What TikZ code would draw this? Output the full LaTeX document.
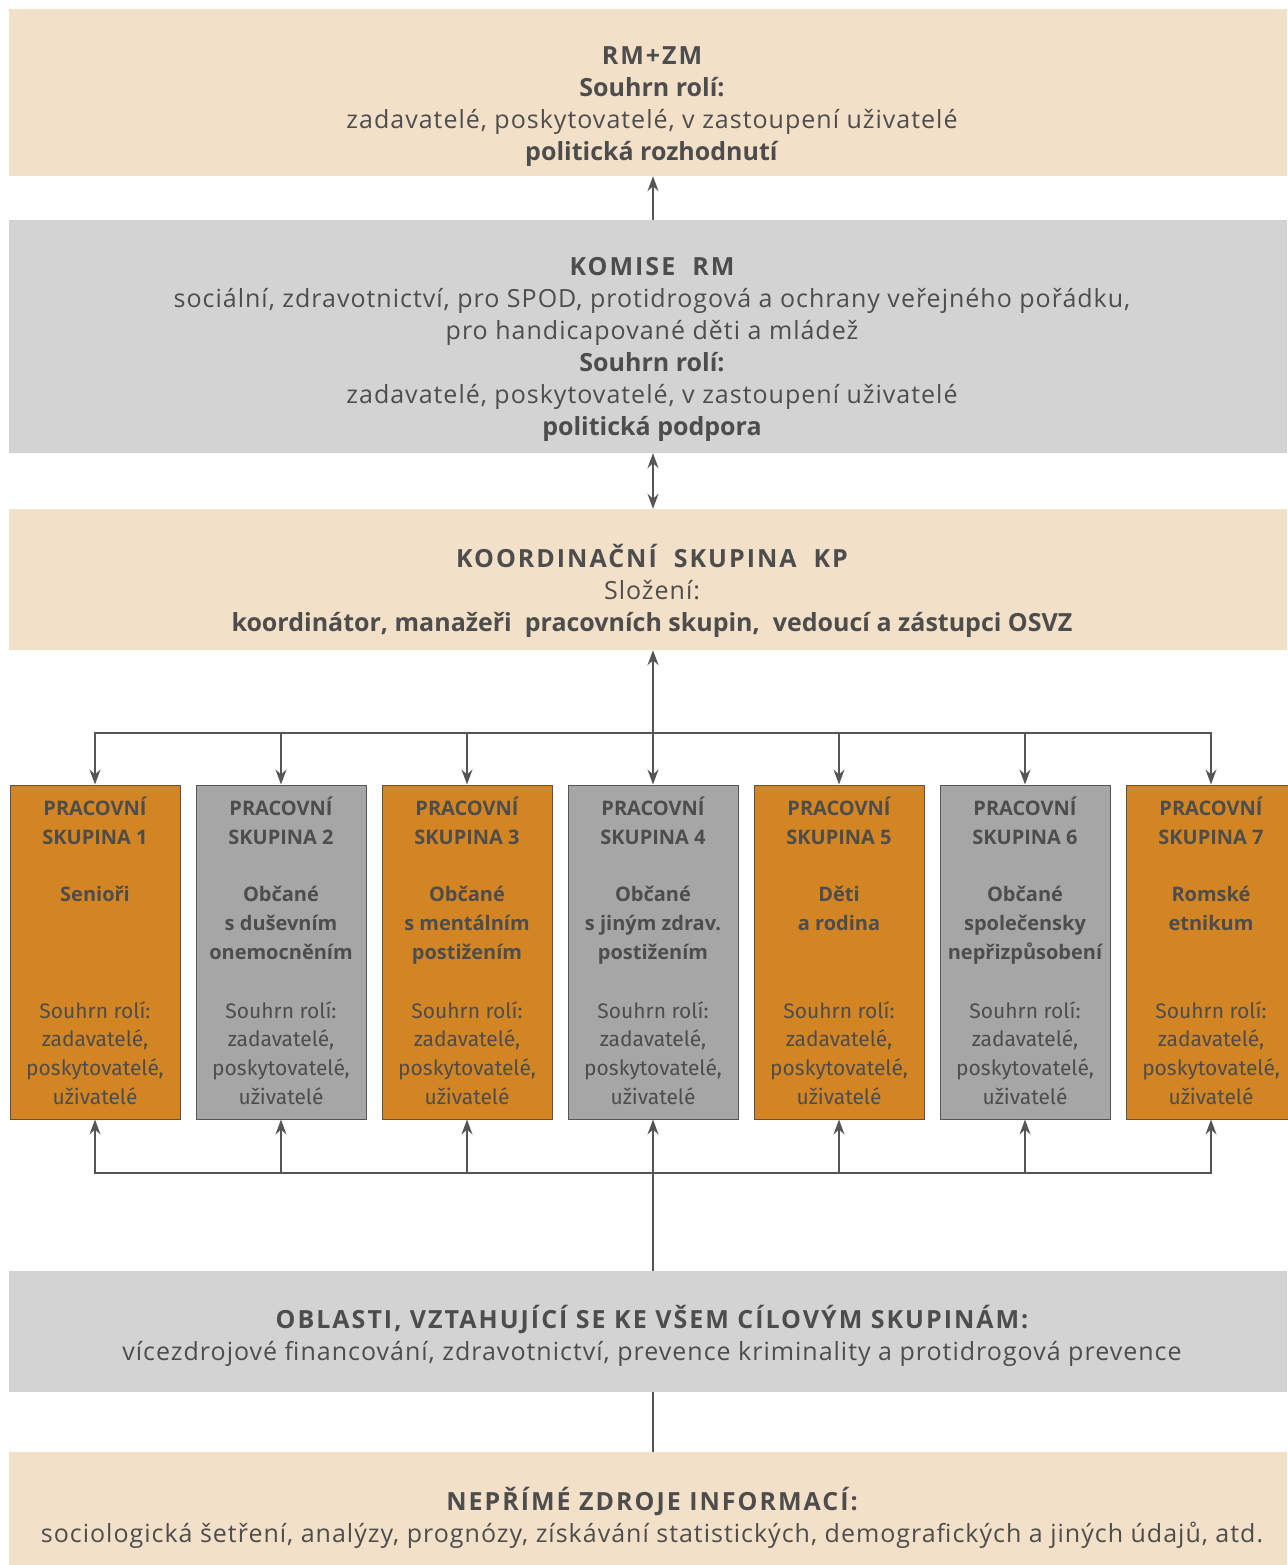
\documentclass[tikz,border=0pt]{standalone}
\usepackage{fontspec}
\setmainfont{Open Sans}[LetterSpace=4, BoldFeatures={LetterSpace=0}]
\newfontfamily\headfont{Open Sans}[LetterSpace=8]
\newfontfamily\grpheadfont{Open Sans}
\newfontfamily\grpfont{Fira Sans}
\newcommand\headline[1]{{\headfont\bfseries #1}}
\usetikzlibrary{arrows.meta, positioning}
\definecolor{peach}{HTML}{F3E0C8}
\definecolor{lgray}{HTML}{D3D3D3}
\definecolor{orng}{HTML}{D38423}
\definecolor{mgray}{HTML}{A6A6A6}
\definecolor{txt}{HTML}{4D4D4D}
\definecolor{ln}{HTML}{555555}

\begin{document}
\begin{tikzpicture}[x=1pt, y=-1pt,
  band/.style={fill=#1, draw=none, minimum width=1278pt, inner sep=0},
  bandtext/.style={align=center, text=txt, inner sep=0, font=\fontsize{25}{32}\selectfont},
  grp/.style={fill=#1, draw=ln, line width=1pt, minimum width=170pt, minimum height=334pt, inner sep=0},
  grphead/.style={anchor=north, align=center, text=txt, inner sep=0, font=\fontsize{20}{28.7}\selectfont\grpheadfont\bfseries},
  grproles/.style={anchor=north, align=center, text=txt, inner sep=0, font=\fontsize{21}{28.7}\selectfont\grpfont},
  link/.style={draw=ln, line width=1.5pt},
  arr/.style={link, -{Stealth[length=15pt, width=11pt, inset=5pt]}},
  darr/.style={link, {Stealth[length=15pt, width=11pt, inset=5pt]}-{Stealth[length=15pt, width=11pt, inset=5pt]}}]
  \useasboundingbox (0,0) rectangle (1287,1565);

  \node[band=peach, minimum height=167pt] (rmzm) at (648,92.5) {};
  \node[bandtext] (rmzmtext) at (652,107) {\headline{RM+ZM}\\\textbf{Souhrn rolí:}\\zadavatelé, poskytovatelé, v zastoupení uživatelé\\\textbf{politická rozhodnutí}};

  \node[band=lgray, minimum height=233pt] (komise) at (648,336.5) {};
  \node[bandtext] (komisetext) at (652,349) {\headline{KOMISE\ \ RM}\\sociální, zdravotnictví, pro SPOD, protidrogová a ochrany veřejného pořádku,\\pro handicapované děti a mládež\\\textbf{Souhrn rolí:}\\zadavatelé, poskytovatelé, v zastoupení uživatelé\\\textbf{politická podpora}};

  \node[band=peach, minimum height=141pt] (koord) at (648,579.5) {};
  \node[bandtext] (koordtext) at (652,591) {\headline{KOORDINAČNÍ\ \ SKUPINA\ \ KP}\\Složení:\\\textbf{koordinátor, manažeři\ \ pracovních skupin,\ \ vedoucí a zástupci OSVZ}};

  \node[band=lgray, minimum height=121pt] (oblasti) at (648,1331.5) {};
  \node[bandtext] (oblastitext) at (652,1335.5) {\headline{OBLASTI, VZTAHUJÍCÍ SE KE VŠEM CÍLOVÝM SKUPINÁM:}\\vícezdrojové financování, zdravotnictví, prevence kriminality a protidrogová prevence};

  \node[band=peach, minimum height=113pt] (neprime) at (648,1508.5) {};
  \node[bandtext] (neprimetext) at (652,1518) {\headline{NEPŘÍMÉ ZDROJE INFORMACÍ:}\\sociologická šetření, analýzy, prognózy, získávání statistických, demografických a jiných údajů, atd.};

  \foreach \i/\fc/\cat in {1/orng/{Senioři},
      2/mgray/{Občané\\s duševním\\onemocněním},
      3/orng/{Občané\\s mentálním\\postižením},
      4/mgray/{Občané\\s jiným zdrav.\\postižením},
      5/orng/{Děti\\a rodina},
      6/mgray/{Občané\\společensky\\nepřizpůsobení},
      7/orng/{Romské\\etnikum}} {
    \node[grp=\fc] (g\i) at ({95+186*(\i-1)},952) {};
    \node[grphead] (g\i head) at ({95+186*(\i-1)},797) {PRACOVNÍ\\SKUPINA \i\\[28.7pt]\cat};
    \node[grproles] (g\i roles) at ({95+186*(\i-1)},1001) {Souhrn rolí:\\zadavatelé,\\poskytovatelé,\\uživatelé};
  }

  \coordinate (bustop) at (653,733);
  \coordinate (busbot) at (653,1173);

  \draw[arr] (komise.north -| g4.north) -- (rmzm.south -| g4.north);
  \draw[darr] (komise.south -| g4.north) -- (koord.north -| g4.north);
  \draw[darr] (koord.south -| g4.north) -- (g4.north);
  \foreach \i in {1,2,3,5,6,7}
    \draw[arr] (bustop) -| (g\i.north);
  \draw[arr] (oblasti.north -| g4.south) -- (g4.south);
  \foreach \i in {1,2,3,5,6,7}
    \draw[arr] (busbot) -| (g\i.south);
  \draw[link] (neprime.north -| g4.south) -- (oblasti.south -| g4.south);
\end{tikzpicture}
\end{document}
